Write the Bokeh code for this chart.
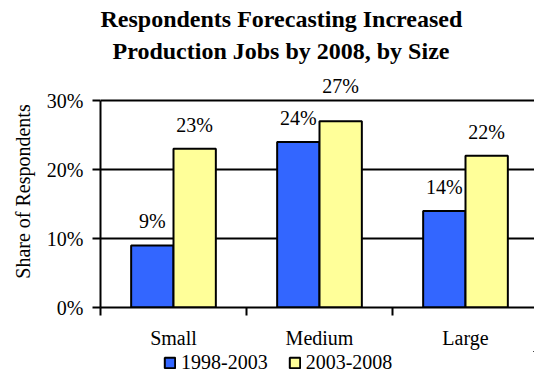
from bokeh.plotting import figure
from bokeh.layouts import column
from bokeh.models import (ColumnDataSource, LinearAxis, FixedTicker, NumeralTickFormatter,
                          Range1d, Legend, LegendItem, Title)
from bokeh.embed import file_html
from bokeh.resources import INLINE

categories = ["Small", "Medium", "Large"]
series_names = ["1998-2003", "2003-2008"]
values_1998_2003 = [0.09, 0.24, 0.14]
values_2003_2008 = [0.23, 0.27, 0.22]
y_ticks = [0.0, 0.1, 0.2, 0.3]
title_lines = ["Respondents Forecasting Increased", "Production Jobs by 2008, by Size"]

FONT = "Liberation Serif"
BLUE = "#3366FF"
YELLOW = "#FFFF99"
colors = [BLUE, YELLOW]

n = len(categories)
centers = [i + 0.5 for i in range(n)]
bounds_x = [float(i) for i in range(n + 1)]
bar_w = 0.29
y_top = y_ticks[-1]

def label_offsets(vals):
    return [-35 if v >= 0.25 else -24 for v in vals]

src1 = ColumnDataSource(dict(x=[c - bar_w / 2 for c in centers], top=values_1998_2003,
                             lab=[f"{round(v*100)}%" for v in values_1998_2003],
                             yoff=label_offsets(values_1998_2003)))
src2 = ColumnDataSource(dict(x=[c + bar_w / 2 for c in centers], top=values_2003_2008,
                             lab=[f"{round(v*100)}%" for v in values_2003_2008],
                             yoff=label_offsets(values_2003_2008)))
sources = [src1, src2]

p = figure(width=534, height=351, output_backend="svg", toolbar_location=None,
           x_range=Range1d(0, 434 / 146), y_range=Range1d(0, y_top * 232 / 207),
           x_axis_location=None, y_axis_location=None,
           min_border_left=100, min_border_top=75, min_border_right=0, min_border_bottom=44)
p.outline_line_color = None
p.xgrid.visible = False
p.ygrid.grid_line_color = "black"
p.ygrid.grid_line_width = 2
p.ygrid.ticker = FixedTicker(ticks=y_ticks)

for s, c in zip(sources, colors):
    p.vbar(x="x", top="top", width=bar_w, source=s, fill_color=c,
           line_color="black", line_width=2)

for s in sources:
    p.text(x="x", y="top", text="lab", source=s, y_offset="yoff",
           text_align="center", text_baseline="alphabetic",
           text_font={"value": FONT}, text_font_size="20px", text_color="black")

# y axis
yax = LinearAxis(ticker=FixedTicker(ticks=y_ticks), formatter=NumeralTickFormatter(format="0%"),
                 bounds=(0, y_top))
yax.axis_label = "Share of Respondents"
yax.axis_label_text_font = FONT
yax.axis_label_text_font_size = "20px"
yax.axis_label_text_font_style = "normal"
yax.axis_label_text_color = "black"
yax.axis_label_standoff = 10
yax.major_label_text_font = FONT
yax.major_label_text_font_size = "20px"
yax.major_label_text_color = "black"
yax.major_label_standoff = 9
yax.axis_line_width = 2
yax.major_tick_line_width = 2
yax.major_tick_out = 8
yax.major_tick_in = 0
yax.minor_tick_line_color = None
p.add_layout(yax, "left")

# x axis: labels at category centres, minor ticks at category boundaries
xax = LinearAxis(ticker=FixedTicker(ticks=centers, minor_ticks=bounds_x),
                 major_label_overrides={c: cat for c, cat in zip(centers, categories)})
xax.axis_line_width = 2
xax.major_tick_line_color = None
xax.major_tick_out = 0
xax.major_tick_in = 0
xax.minor_tick_line_color = "black"
xax.minor_tick_line_width = 2
xax.minor_tick_out = 8
xax.minor_tick_in = 0
xax.major_label_text_font = FONT
xax.major_label_text_font_size = "20px"
xax.major_label_text_color = "black"
xax.major_label_standoff = 11
p.add_layout(xax, "below")

t2 = Title(text=title_lines[1], text_font=FONT, text_font_size="24px", text_color="black",
           text_font_style="bold", align="left", offset=12, standoff=24)
t1 = Title(text=title_lines[0], text_font=FONT, text_font_size="24px", text_color="black",
           text_font_style="bold", align="left", offset=0, standoff=-17)
p.add_layout(t2, "above")
p.add_layout(t1, "above")

# legend strip (its proxy bars lie beyond the top-right corner of its visible ranges)
lf = figure(width=534, height=22, output_backend="svg", toolbar_location=None,
            x_axis_location=None, y_axis_location=None,
            x_range=Range1d(-101, -100), y_range=Range1d(-11, -10),
            min_border=0, min_border_left=0, min_border_right=0,
            min_border_top=0, min_border_bottom=0)
lf.outline_line_color = None
lf.xgrid.visible = False
lf.ygrid.visible = False
lr = [lf.vbar(x="x", top="top", width=bar_w, source=s, fill_color=c,
              line_color="black", line_width=2)
      for s, c in zip(sources, colors)]
legend = Legend(items=[LegendItem(label=nm, renderers=[r]) for nm, r in zip(series_names, lr)],
                orientation="horizontal", location=(63, -1))
legend.label_text_font = FONT
legend.label_text_font_size = "20px"
legend.label_text_color = "black"
legend.glyph_width = 13
legend.glyph_height = 13
legend.label_standoff = 5
legend.spacing = 20
legend.padding = 0
legend.margin = 0
legend.border_line_color = None
legend.background_fill_alpha = 0
lf.add_layout(legend, "center")

layout = column(p, lf, spacing=0)
open("out.html", "w").write(file_html(layout, INLINE))
